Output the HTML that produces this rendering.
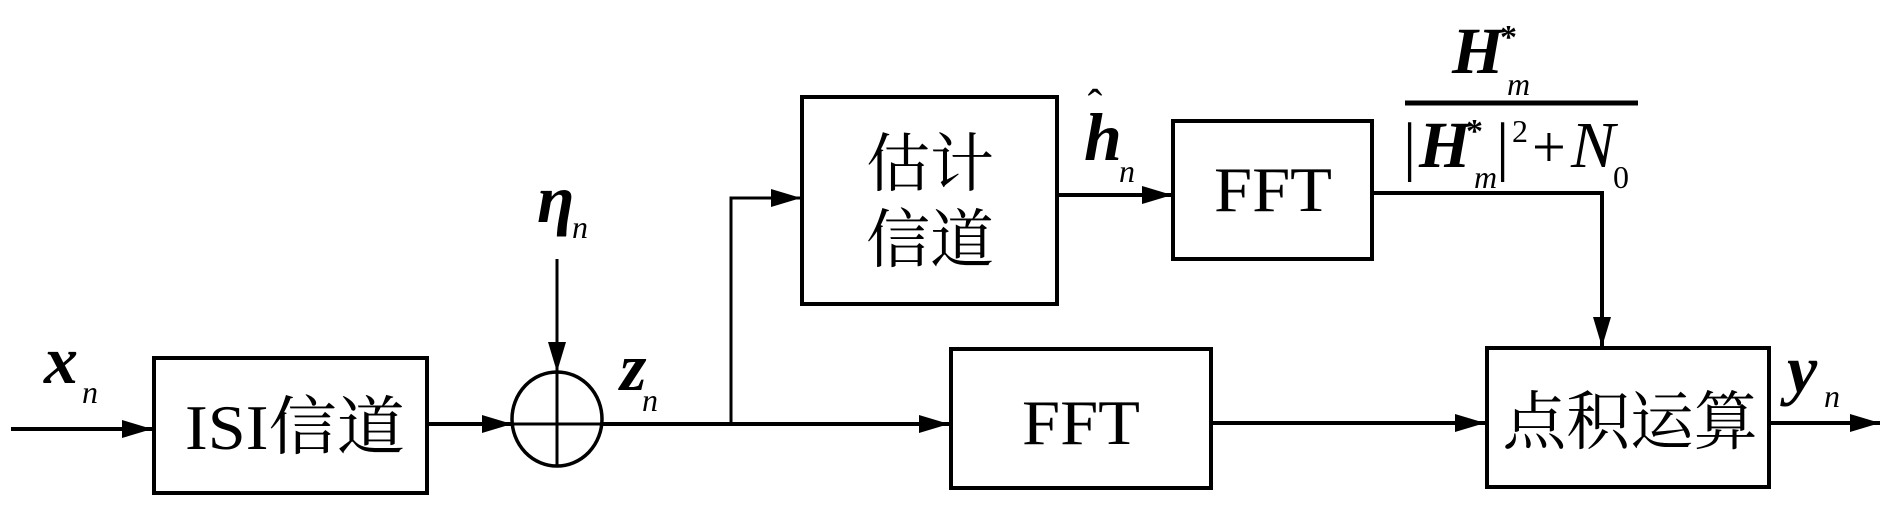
<!DOCTYPE html>
<html><head><meta charset="utf-8"><style>html,body{margin:0;padding:0;background:#fff}svg{display:block}</style></head>
<body>
<svg width="1890" height="520" viewBox="0 0 1890 520" xmlns="http://www.w3.org/2000/svg">
<defs>
<marker id="a" markerWidth="30" markerHeight="18" refX="30" refY="9" orient="auto" markerUnits="userSpaceOnUse">
<path d="M0,0 L30,9 L0,18 Z" fill="#000"/></marker>
</defs>
<g stroke="#000" stroke-width="4" fill="none">
<rect x="154" y="358" width="273" height="135"/>
<rect x="802" y="97" width="255" height="207"/>
<rect x="1173" y="121" width="199" height="138"/>
<rect x="951" y="349" width="260" height="139"/>
<rect x="1487" y="348" width="282" height="139"/>
<ellipse cx="557" cy="419" rx="45" ry="47" stroke-width="3.5"/>
<line x1="557" y1="372" x2="557" y2="466" stroke-width="3"/>
<line x1="512" y1="424" x2="603" y2="424" stroke-width="3"/>
</g>
<g stroke="#000" stroke-width="4" fill="none">
<line x1="11" y1="429" x2="152" y2="429" marker-end="url(#a)"/>
<line x1="427" y1="424" x2="512" y2="424" marker-end="url(#a)"/>
<line x1="557" y1="259" x2="557" y2="372" stroke-width="3" marker-end="url(#a)"/>
<line x1="603" y1="424" x2="949" y2="424" marker-end="url(#a)"/>
<polyline points="731,424 731,198 801,198" stroke-width="3" marker-end="url(#a)"/>
<line x1="1057" y1="195" x2="1172" y2="195" marker-end="url(#a)"/>
<polyline points="1372,193 1602,193 1602,347" marker-end="url(#a)"/>
<line x1="1211" y1="423" x2="1485" y2="423" marker-end="url(#a)"/>
<line x1="1769" y1="423" x2="1880" y2="423" marker-end="url(#a)"/>
<line x1="1405" y1="103" x2="1638" y2="103" stroke-width="5"/>
</g>
<g font-family="Liberation Serif, 'Noto Serif CJK SC', serif" fill="#000">
<text x="295" y="449" font-size="64" text-anchor="middle" textLength="220" lengthAdjust="spacingAndGlyphs">ISI信道</text>
<text x="930" y="186" font-size="64" text-anchor="middle">估计</text>
<text x="930" y="262" font-size="64" text-anchor="middle">信道</text>
<text x="1273" y="211" font-size="64" text-anchor="middle" textLength="118" lengthAdjust="spacingAndGlyphs">FFT</text>
<text x="1081" y="444" font-size="64" text-anchor="middle" textLength="118" lengthAdjust="spacingAndGlyphs">FFT</text>
<text x="1630" y="444" font-size="64" text-anchor="middle" textLength="255" lengthAdjust="spacingAndGlyphs">点积运算</text>
<g font-style="italic" font-weight="bold" font-size="68">
<text x="44" y="383">x</text>
<text x="537" y="222">η</text>
<text x="620" y="390">z</text>
<text x="1084" y="160">h</text>
<text x="1787" y="392">y</text>
<text x="1452" y="73" font-size="66">H</text>
<text x="1419" y="167" font-size="66">H</text>
</g>
<text x="1095" y="120" font-size="44" text-anchor="middle">ˆ</text>
<text x="1500" y="48" font-size="34" font-weight="bold">*</text>
<text x="1466" y="142" font-size="34" font-weight="bold">*</text>
<g font-style="italic" font-size="32">
<text x="82" y="403">n</text>
<text x="572" y="238">n</text>
<text x="642" y="411">n</text>
<text x="1119" y="182">n</text>
<text x="1824" y="407">n</text>
<text x="1507" y="95">m</text>
<text x="1474" y="188">m</text>
<text x="1571" y="167" font-size="66">N</text>
</g>
<text x="1403" y="168" font-size="66">|</text>
<text x="1496" y="168" font-size="66">|</text>
<text x="1512" y="142" font-size="32">2</text>
<text x="1532" y="167" font-size="60">+</text>
<text x="1613" y="188" font-size="32">0</text>
</g>
</svg>
</body></html>
